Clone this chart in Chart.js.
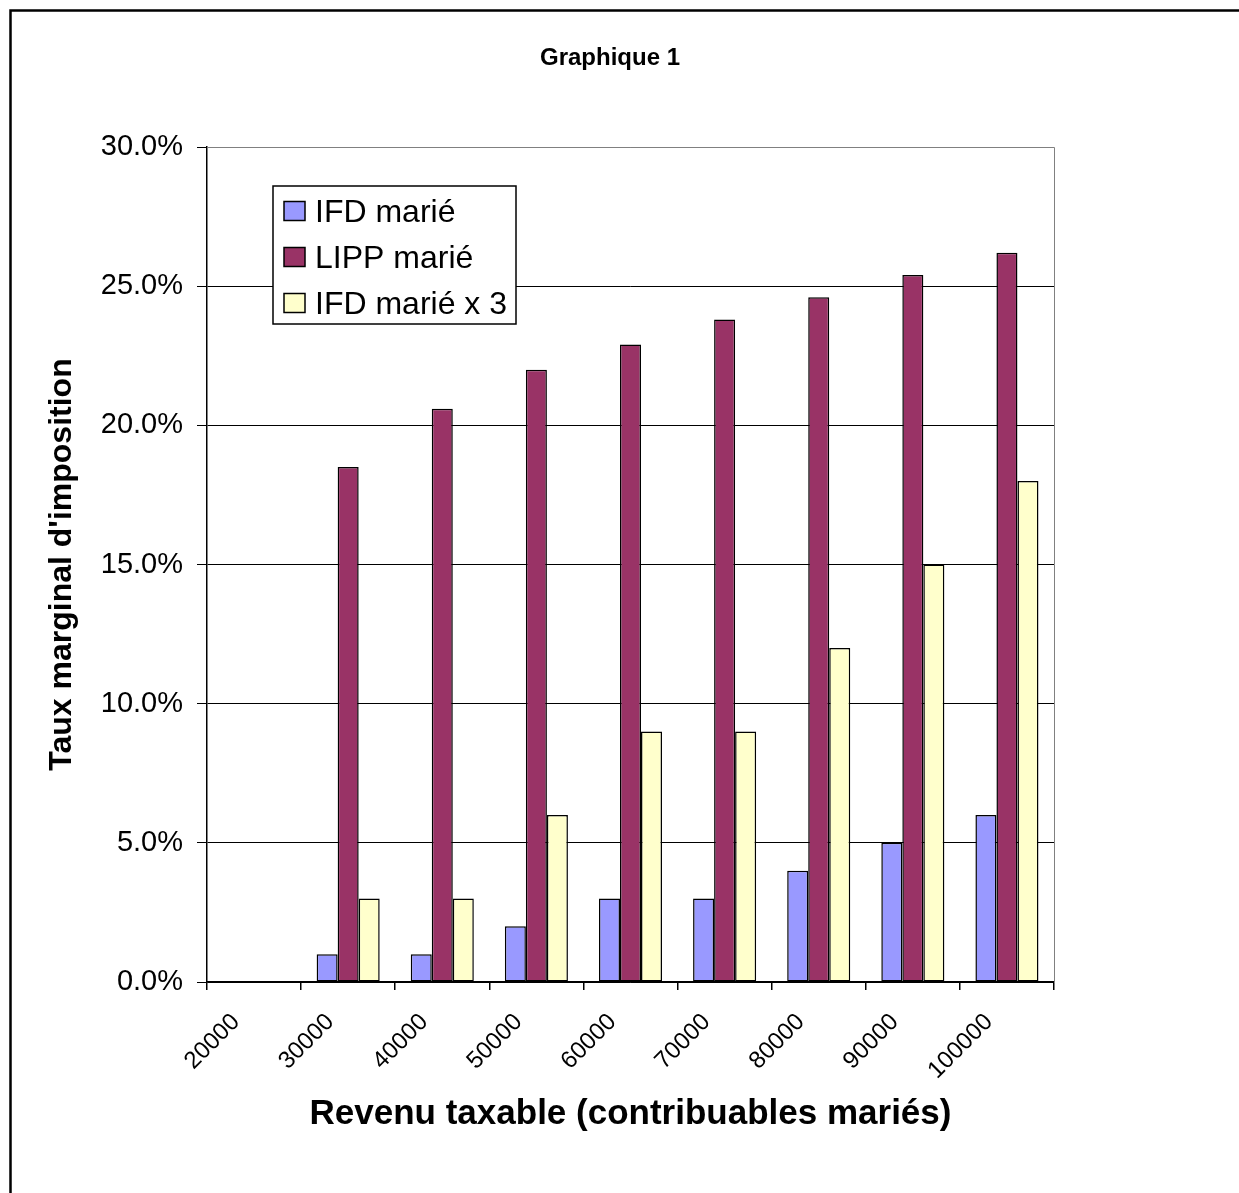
<!DOCTYPE html>
<html>
<head>
<meta charset="utf-8">
<script src="https://cdn.jsdelivr.net/npm/chart.js@4.4.1/dist/chart.umd.min.js"></script>
<style>
  html, body { margin: 0; padding: 0; background: #fff; overflow: hidden; }
  #wrap { position: relative; width: 1239px; height: 1193px; }
</style>
</head>
<body>
<div id="wrap"><canvas id="c" width="1239" height="1193"></canvas></div>
<script>
// Texts
const CHART_TITLE = 'Graphique 1';
const X_TITLE = 'Revenu taxable (contribuables mariés)';
const Y_TITLE = "Taux marginal d'imposition";

// Categories: taxable income
const revenus = ['20000', '30000', '40000', '50000', '60000', '70000', '80000', '90000', '100000'];

// Marginal tax rates (%)
const ifdMarie   = [0, 1, 1, 2, 3, 3, 4, 5, 6];
const lippMarie  = [0, 18.5, 20.6, 22.0, 22.9, 23.8, 24.6, 25.4, 26.2];
const ifdMarieX3 = [0, 3, 3, 6, 9, 9, 12, 15, 18];

const seriesNames  = ['IFD marié', 'LIPP marié', 'IFD marié x 3'];
const seriesColors = ['#9999FF', '#993366', '#FFFFCC'];

// Value axis
const Y_MIN = 0, Y_MAX = 30, Y_STEP = 5;

const FONT = "'Liberation Sans', Arial, sans-serif";

// Outer frame, plot border and chart title
const decorPlugin = {
  id: 'decor',
  beforeDraw(chart) {
    const ctx = chart.ctx;
    ctx.save();
    ctx.fillStyle = '#fff';
    ctx.fillRect(0, 0, chart.width, chart.height);
    ctx.strokeStyle = '#000';
    ctx.lineWidth = 2.5;
    ctx.beginPath();
    ctx.moveTo(10.5, chart.height + 5);
    ctx.lineTo(10.5, 10.5);
    ctx.lineTo(chart.width + 5, 10.5);
    ctx.stroke();
    ctx.restore();
  },
  beforeDatasetsDraw(chart) {
    const {ctx, chartArea: a} = chart;
    ctx.save();
    ctx.strokeStyle = '#808080';
    ctx.lineWidth = 1;
    ctx.beginPath();
    ctx.moveTo(a.left, Math.round(a.top) + 0.5);
    ctx.lineTo(Math.round(a.right) + 0.5, Math.round(a.top) + 0.5);
    ctx.lineTo(Math.round(a.right) + 0.5, a.bottom);
    ctx.stroke();
    ctx.restore();
  },
  afterDraw(chart) {
    const ctx = chart.ctx;
    ctx.save();
    ctx.fillStyle = '#000';
    ctx.font = 'bold 24px ' + FONT;
    ctx.textAlign = 'center';
    ctx.textBaseline = 'alphabetic';
    ctx.fillText(CHART_TITLE, 610, 65);
    ctx.restore();
  }
};

// Boxed legend inside the plot area
const boxLegendPlugin = {
  id: 'boxLegend',
  afterDraw(chart) {
    const {ctx, chartArea: a} = chart;
    const x0 = a.left + 66, y0 = a.top + 39;
    const w = 243, h = 138, rowH = 46;
    ctx.save();
    ctx.fillStyle = '#fff';
    ctx.fillRect(x0, y0, w, h);
    ctx.strokeStyle = '#000';
    ctx.lineWidth = 1.5;
    ctx.strokeRect(x0, y0, w, h);
    ctx.font = '32px ' + FONT;
    ctx.textAlign = 'left';
    ctx.textBaseline = 'alphabetic';
    chart.data.datasets.forEach((ds, i) => {
      const cy = y0 + 25 + i * rowH;
      ctx.fillStyle = ds.backgroundColor;
      ctx.fillRect(x0 + 11, cy - 9.5, 21, 19);
      ctx.strokeStyle = '#000';
      ctx.lineWidth = 1.5;
      ctx.strokeRect(x0 + 11, cy - 9.5, 21, 19);
      ctx.fillStyle = '#000';
      ctx.fillText(ds.label, x0 + 42, cy + 11);
    });
    ctx.restore();
  }
};

const seriesValues = [ifdMarie, lippMarie, ifdMarieX3];

new Chart(document.getElementById('c'), {
  type: 'bar',
  data: {
    labels: revenus,
    datasets: seriesValues.map((vals, i) => ({
      label: seriesNames[i],
      data: vals,
      backgroundColor: seriesColors[i],
      borderColor: '#000',
      borderWidth: 1.5,
      borderSkipped: false,
      categoryPercentage: 0.67,
      barPercentage: 1.0
    }))
  },
  options: {
    responsive: false,
    animation: false,
    devicePixelRatio: 1,
    events: [],
    layout: { padding: { left: 0, top: 147, right: 185, bottom: 0 } },
    plugins: {
      legend: { display: false },
      title: { display: false },
      tooltip: { enabled: false }
    },
    scales: {
      x: {
        afterFit(scale) { scale.height = 211; },
        grid: {
          display: true,
          drawOnChartArea: false,
          drawTicks: true,
          tickLength: 8,
          offset: true,
          color: '#000',
          tickColor: '#000',
          lineWidth: 1.5
        },
        border: { display: true, color: '#000', width: 1.5 },
        ticks: {
          autoSkip: false,
          minRotation: 45,
          maxRotation: 45,
          padding: 18,
          labelOffset: -18,
          color: '#000',
          font: { family: FONT, size: 24 }
        },
        title: {
          display: true,
          text: X_TITLE,
          color: '#000',
          font: { family: FONT, size: 35, weight: 'bold' },
          padding: { top: 0, bottom: 58 }
        }
      },
      y: {
        min: Y_MIN,
        max: Y_MAX,
        afterFit(scale) { scale.width = 207; },
        grid: {
          color: (c) => (c.tick && c.tick.value === Y_MAX ? '#808080' : '#000'),
          tickColor: '#000',
          tickLength: 10,
          lineWidth: 1
        },
        border: { display: true, color: '#000', width: 1.5 },
        ticks: {
          stepSize: Y_STEP,
          padding: 14,
          color: '#000',
          font: { family: FONT, size: 29 },
          callback: (v) => Number(v).toFixed(1) + '%'
        },
        title: {
          display: true,
          text: Y_TITLE,
          color: '#000',
          font: { family: FONT, size: 32, weight: 'bold' },
          padding: { top: 43, bottom: 0 }
        }
      }
    }
  },
  plugins: [decorPlugin, boxLegendPlugin]
});
</script>
</body>
</html>
